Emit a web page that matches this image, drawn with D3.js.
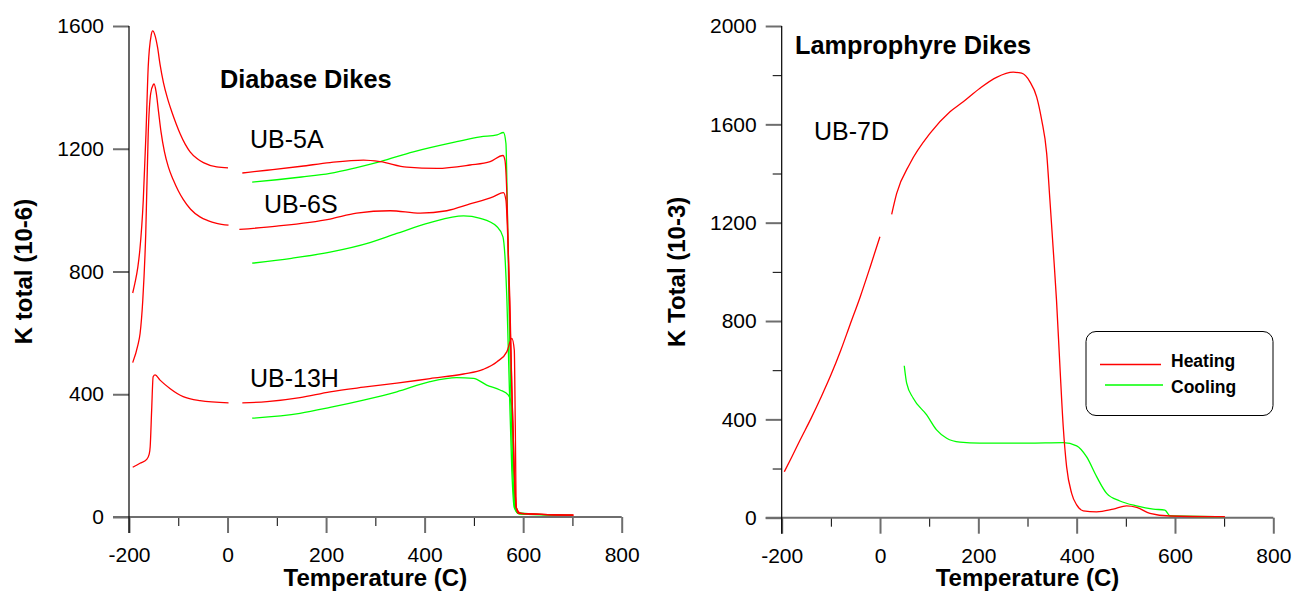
<!DOCTYPE html>
<html>
<head>
<meta charset="utf-8">
<script src="https://cdn.jsdelivr.net/npm/d3@7"></script>
<style>
  html, body { margin: 0; padding: 0; background: #fff; }
  svg { display: block; font-family: "Liberation Sans", Arial, Helvetica, sans-serif; }
</style>
</head>
<body>
<svg id="chart" width="1309" height="595"></svg>
<script>
// ---------------- DATA ----------------
const xTicksMajor = [-200, 0, 200, 400, 600, 800];
const xTicksMinor = [-100, 100, 300, 500, 700];
const leftYTicks = [0, 400, 800, 1200, 1600];
const rightYTicksMajor = [0, 400, 800, 1200, 1600, 2000];
const rightYTicksMinor = [200, 600, 1000, 1400, 1800];

// Diabase dikes, [temperature C, K total (10-6)]
const ub5aHeatLow = [[-192.5,730],[-188,762],[-182,815],[-178,870],[-171,1033],[-165.5,1251],[-161,1467],[-155,1570],[-152,1584],[-147,1568],[-142,1530],[-137,1475],[-130,1415],[-122,1365],[-113,1320],[-104,1280],[-96,1248],[-86,1215],[-76,1190],[-62,1168],[-49,1155],[-22,1141],[1,1138]];
const ub5aHeatHigh = [[30,1121],[80,1130],[150,1143],[208,1155],[276,1163],[310,1158],[364,1140],[425,1136],[492,1147],[533,1158],[559,1178],[563,1163],[567,1050],[572,720],[577,420],[582,150],[586,30],[595,12],[650,8],[702,6]];
const ub5aCool = [[50,1091],[100,1099],[150,1108],[208,1120],[260,1138],[310,1158],[377,1190],[465,1223],[513,1239],[547,1245],[560,1253],[565,1218],[568,1000],[571,707],[575,400],[579,150],[583,30],[592,10],[650,7],[700,5]];

const ub6sHeatLow = [[-192.5,503],[-182,560],[-177.5,598],[-172,707],[-166,924],[-161,1250],[-156,1380],[-151,1408],[-149,1411],[-145,1385],[-140,1320],[-135,1255],[-128,1190],[-120,1140],[-110,1098],[-100,1063],[-90,1035],[-75,1003],[-56,978],[-40,966],[-22,957],[2,951]];
const ub6sHeatHigh = [[24,937],[100,948],[208,971],[262,990],[330,998],[391,990],[445,998],[492,1020],[540,1044],[560,1057],[565,1033],[569,900],[573,707],[577,420],[582,150],[586,30],[595,12],[650,8],[702,6]];
const ub6sCool = [[50,827],[130,843],[208,863],[289,894],[343.5,924],[411,959],[479,981],[513,973],[547,946],[559,913],[563.5,837],[567,707],[572,420],[577,150],[582,30],[592,10],[650,7],[700,5]];

const ub13hHeatLow = [[-192.5,162],[-177.7,175],[-164,188],[-159,205],[-157,229],[-154,349],[-151,457],[-147,463],[-137,446],[-117,419],[-90,392],[-56,379],[2,372]];
const ub13hHeatHigh = [[30,372],[80,376],[147,389],[208,408],[276,423],[343.5,436],[411,451],[479,466],[519,481],[547,506],[567,539],[577,582],[582,544],[584,300],[586,34],[590,12],[650,8],[702,6]];
const ub13hCool = [[50,322],[147,338],[208,357],[276,381],[343.5,408],[411,441],[465,454],[499,452],[526,430],[553,414],[570,397],[577,359],[580,200],[583,50],[588,15],[650,7],[700,5]];

// Lamprophyre dikes, [temperature C, K total (10-3)]
const ub7dHeatLow = [[-194.7,187],[-180,245],[-162.8,315],[-140,405],[-120,490],[-100,580],[-80,680],[-61,785],[-40,900],[-20,1020],[-0.2,1143]];
const ub7dHeatHigh = [[23.7,1234],[33.9,1319],[61,1441],[101.6,1563],[142.3,1651],[169.3,1692],[203.3,1747],[237,1791],[271,1812],[288,1808],[305,1773],[318.6,1712],[328.8,1618],[339,1482],[345.6,1292],[352.4,1089],[359,885],[366,614],[372.7,370],[379.6,207],[389.8,99],[400,52],[413.4,28],[440.6,24],[474.4,35],[501.6,48],[522,42],[549,18],[589.7,7],[701.6,4]];
const ub7dCool = [[49.3,618],[54.2,547],[67.6,486],[94.9,418],[115,357],[135.6,323],[162.6,307],[203,303],[300,303],[372.7,305],[400,292],[420,248],[440.6,167],[461,99],[488,68],[522,48],[555.8,35],[579.5,31],[589.7,8],[700,4]];

const legendLabels = ["Heating", "Cooling"];
// ---------------- DRAW ----------------
const RED = "#ff0000", GREEN = "#00ff00";
const svg = d3.select("#chart");
const fmt = d => String(d);

function panel(cfg) {
  const x = d3.scaleLinear().domain([-200, 800]).range([cfg.x0, cfg.x1]);
  const y = d3.scaleLinear().domain([0, cfg.yMax]).range([cfg.y0, cfg.y1]);
  const g = svg.append("g");

  const xa = g.append("g").attr("transform", `translate(0,${cfg.y0})`)
    .call(d3.axisBottom(x).tickValues(xTicksMajor).tickSize(16).tickPadding(14).tickFormat(fmt));
  xa.select(".domain").remove();
  xa.selectAll("line").attr("stroke", "#6e6e6e").attr("stroke-width", 2);
  xa.selectAll("text").attr("font-size", 21).attr("fill", "#000");
  const xm = g.append("g").attr("transform", `translate(0,${cfg.y0})`)
    .call(d3.axisBottom(x).tickValues(xTicksMinor).tickSize(9).tickFormat(""));
  xm.select(".domain").remove();
  xm.selectAll("line").attr("stroke", "#000").attr("stroke-width", 1);

  const ya = g.append("g").attr("transform", `translate(${cfg.x0},0)`)
    .call(d3.axisLeft(y).tickValues(cfg.yTicks).tickSize(16).tickPadding(9).tickFormat(fmt));
  ya.select(".domain").remove();
  ya.selectAll("line").attr("stroke", "#6e6e6e").attr("stroke-width", 2);
  ya.selectAll("text").attr("font-size", 21).attr("fill", "#000");
  if (cfg.yMinor) {
    const ym = g.append("g").attr("transform", `translate(${cfg.x0},0)`)
      .call(d3.axisLeft(y).tickValues(cfg.yMinor).tickSize(9).tickFormat(""));
    ym.select(".domain").remove();
    ym.selectAll("line").attr("stroke", "#000").attr("stroke-width", 1);
  }
  g.append("line").attr("x1", cfg.x0 - 16).attr("x2", cfg.x1)
    .attr("y1", cfg.y0).attr("y2", cfg.y0).attr("stroke", "#6e6e6e").attr("stroke-width", 2);
  g.append("line").attr("x1", cfg.x0).attr("x2", cfg.x0)
    .attr("y1", cfg.y1).attr("y2", cfg.y0 + 16).attr("stroke", "#000").attr("stroke-width", 1.2);

  g.append("text").attr("x", (cfg.x0 + cfg.x1) / 2).attr("y", 586)
    .attr("text-anchor", "middle").attr("font-size", 24).attr("font-weight", "bold").text("Temperature (C)");
  g.append("text").attr("transform", `translate(${cfg.yTitleX},${(cfg.y0 + cfg.y1) / 2}) rotate(-90)`)
    .attr("text-anchor", "middle").attr("font-size", 24).attr("font-weight", "bold").text(cfg.yTitle);
  g.append("text").attr("x", cfg.titleX).attr("y", cfg.titleY)
    .attr("font-size", 25.3).attr("font-weight", "bold").text(cfg.title);

  const line = d3.line().x(d => x(d[0])).y(d => y(d[1])).curve(d3.curveMonotoneX);
  cfg.series.forEach(s => {
    g.append("path").datum(s.data).attr("d", line)
      .attr("fill", "none").attr("stroke", s.color).attr("stroke-width", 1.3);
  });
  cfg.labels.forEach(l => {
    g.append("text").attr("x", l.x).attr("y", l.y).attr("font-size", 25).text(l.text);
  });
  return g;
}

panel({
  x0: 129, x1: 621.7, y0: 517, y1: 26, yMax: 1600, yTicks: leftYTicks,
  yTitle: "K total (10-6)", yTitleX: 32, title: "Diabase Dikes", titleX: 220, titleY: 88,
  series: [
    {data: ub5aCool, color: GREEN}, {data: ub6sCool, color: GREEN}, {data: ub13hCool, color: GREEN},
    {data: ub5aHeatLow, color: RED}, {data: ub5aHeatHigh, color: RED},
    {data: ub6sHeatLow, color: RED}, {data: ub6sHeatHigh, color: RED},
    {data: ub13hHeatLow, color: RED}, {data: ub13hHeatHigh, color: RED}
  ],
  labels: [{text: "UB-5A", x: 250, y: 148}, {text: "UB-6S", x: 264, y: 213}, {text: "UB-13H", x: 250, y: 387}]
});

panel({
  x0: 781.7, x1: 1273.3, y0: 517.7, y1: 26, yMax: 2000, yTicks: rightYTicksMajor, yMinor: rightYTicksMinor,
  yTitle: "K Total (10-3)", yTitleX: 685, title: "Lamprophyre Dikes", titleX: 795, titleY: 54,
  series: [
    {data: ub7dCool, color: GREEN},
    {data: ub7dHeatLow, color: RED}, {data: ub7dHeatHigh, color: RED}
  ],
  labels: [{text: "UB-7D", x: 814, y: 140}]
});

const lg = svg.append("g");
lg.append("rect").attr("x", 1086).attr("y", 331.5).attr("width", 187).attr("height", 84)
  .attr("rx", 10).attr("fill", "#fff").attr("stroke", "#000").attr("stroke-width", 1);
const legendColors = [RED, GREEN];
legendLabels.forEach((t, i) => {
  lg.append("line").attr("x1", 1100 + i * 5).attr("x2", 1161 + i * 2)
    .attr("y1", 364.5 + i * 20.5).attr("y2", 364.5 + i * 20.5)
    .attr("stroke", legendColors[i]).attr("stroke-width", 1.3);
  lg.append("text").attr("x", 1171).attr("y", 366.5 + i * 26.7)
    .attr("font-size", 17.5).attr("font-weight", "bold").text(t);
});
</script>
</body>
</html>
